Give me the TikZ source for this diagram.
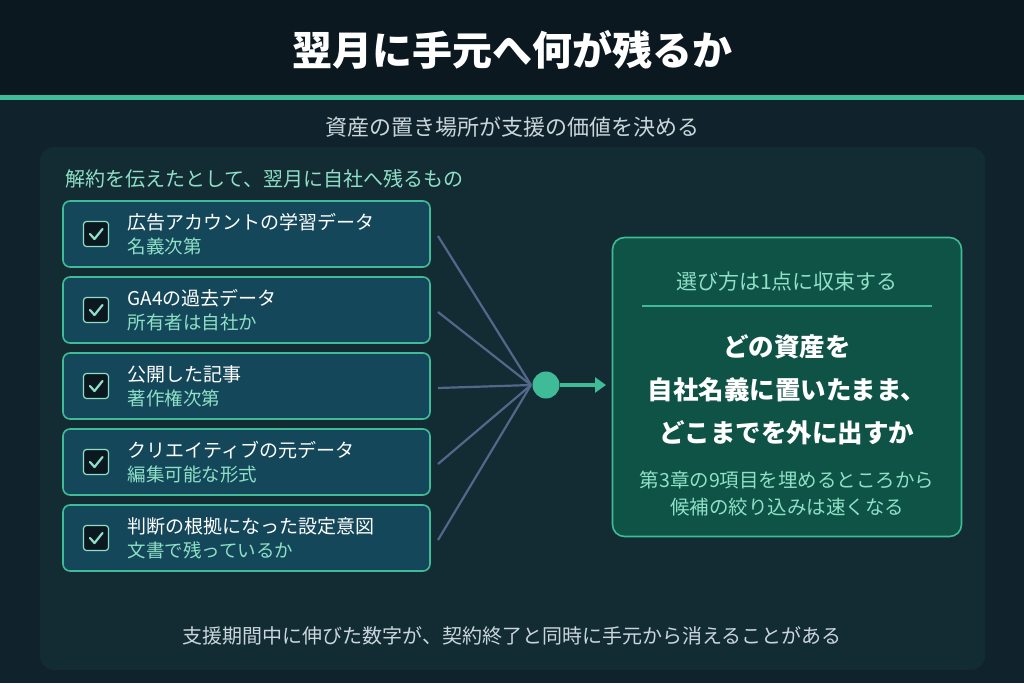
\documentclass[tikz,border=0pt]{standalone}
\usepackage{fontspec}
\setmainfont{Noto Sans CJK JP}
\usetikzlibrary{arrows.meta}
\definecolor{pagebg}{HTML}{10222B}
\definecolor{titlebg}{HTML}{0B1820}
\definecolor{panelbg}{HTML}{132B33}
\definecolor{itembg}{HTML}{15475A}
\definecolor{accent}{HTML}{3FBB98}
\definecolor{softteal}{HTML}{8EE0C6}
\definecolor{greytxt}{HTML}{C9D6DB}
\definecolor{feeder}{HTML}{52688A}
\definecolor{resultbg}{HTML}{0F5246}
\tikzset{%
  item/.style   = {draw=accent, line width=1.6pt, fill=itembg, rounded corners=7pt,%
                   minimum width=367pt, minimum height=66pt, inner sep=0pt},%
  tick/.style   = {draw=softteal, line width=1.2pt, fill=titlebg, rounded corners=3pt,%
                   minimum size=25pt, inner sep=0pt},%
  head/.style   = {anchor=west, text=white, font=\fontsize{19}{21}\selectfont},%
  note/.style   = {anchor=west, text=softteal, font=\fontsize{18.5}{21}\selectfont},%
  feed/.style   = {draw=feeder, line width=2.2pt},%
  big/.style    = {text=white, font=\bfseries\fontsize{25.5}{28}\selectfont}%
}
\begin{document}
\begin{tikzpicture}[x=1pt,y=-1pt]
	\useasboundingbox (0,0) rectangle (1024,683);
	\fill [pagebg] (0,0) rectangle (1024,683);
	\fill [titlebg] (0,0) rectangle (1024,95);
	\fill [accent] (0,95) rectangle (1024,99.5);
	\node (title) [text=white, font=\bfseries\fontsize{40}{44}\selectfont] at (512,50) {翌月に手元へ何が残るか};
	\node (sub) [text=greytxt, font=\fontsize{22}{24}\selectfont] at (512,127) {資産の置き場所が支援の価値を決める};
	\fill [panelbg, rounded corners=14pt] (40,147) rectangle (985,670);
	\node (lead) [anchor=west, text=softteal, font=\fontsize{20}{22}\selectfont] at (62,179) {解約を伝えたとして、翌月に自社へ残るもの};
	% items
	\foreach \i/\y/\a/\b in {1/234/広告アカウントの学習データ/名義次第,
	                        2/310/GA4の過去データ/所有者は自社か,
	                        3/386/公開した記事/著作権次第,
	                        4/462/クリエイティブの元データ/編集可能な形式,
	                        5/538/判断の根拠になった設定意図/文書で残っているか}{
		\node (item\i) [item] at (246.5,\y) {};
		\node (box\i) [tick] at (96,\y) {};
		\draw [softteal, line width=2.2pt, line cap=round, line join=round]
			([shift={(-6,0)}]box\i.center) -- ([shift={(-1.5,5)}]box\i.center) -- ([shift={(6.5,-5)}]box\i.center);
		\node (name\i) [head] at (124,\y-12) {\a};
		\node (hint\i) [note] at (124,\y+12) {\b};
		\coordinate (src\i) at (438,\y+2);
	}
	\coordinate (hub) at (531,385);
	\foreach \i in {1,...,5}
		\draw [feed] (src\i) -- (hub);
	\node (join) [circle, fill=accent, minimum size=27pt, inner sep=0pt] at (546,385) {};
	\coordinate (tip) at (606,385);
	\draw [accent, line width=4pt, -{Triangle[length=11pt,width=15pt]}] (join.east) -- (tip);
	% result
	\node (result) [draw=accent, line width=1.6pt, fill=resultbg, rounded corners=12pt,%
		minimum width=349pt, minimum height=299pt] at (787,387) {};
	\node (rhead) [text=softteal, font=\fontsize{21}{23}\selectfont] at (787,282) {選び方は1点に収束する};
	\draw [accent, line width=1.2pt] (642,306) -- (932,306);
	\node (r1) [big] at (787,347) {どの資産を};
	\node (r2) [big] at (787,390) {自社名義に置いたまま、};
	\node (r3) [big] at (787,433) {どこまでを外に出すか};
	\node (r4) [text=softteal, font=\fontsize{19.5}{21}\selectfont] at (787,480) {第3章の9項目を埋めるところから};
	\node (r5) [text=softteal, font=\fontsize{19.5}{21}\selectfont] at (787,507) {候補の絞り込みは速くなる};
	\node (foot) [text=greytxt, font=\fontsize{20}{22}\selectfont] at (512,636) {支援期間中に伸びた数字が、契約終了と同時に手元から消えることがある};
\end{tikzpicture}
\end{document}
